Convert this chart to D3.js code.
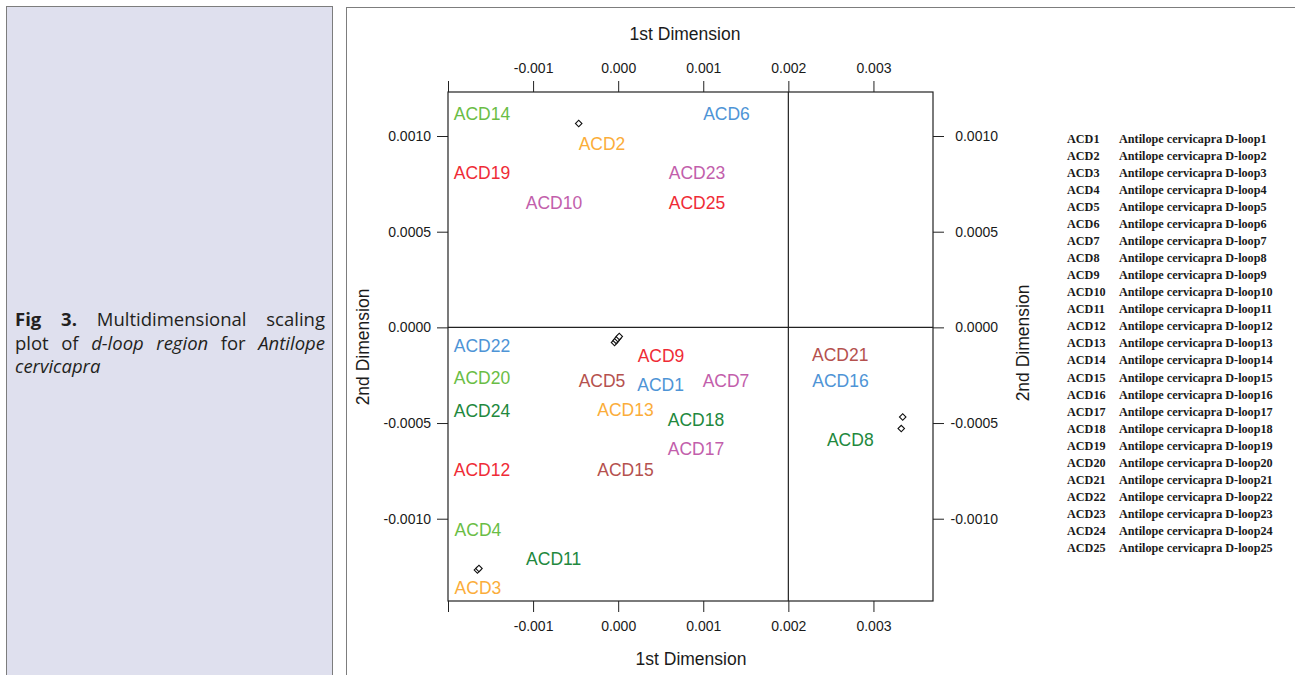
<!DOCTYPE html>
<html>
<head>
<meta charset="utf-8">
<script src="https://cdn.jsdelivr.net/npm/d3@7"></script>
<style>
  body { margin: 0; background: #fff; }
  #wrap { position: relative; width: 1295px; height: 675px; overflow: hidden; }
  #caption {
    position: absolute; left: 15px; top: 307px; width: 310px;
    font-family: "Open Sans", sans-serif; font-size: 18.5px; line-height: 23.5px;
    color: #231f20;
  }
  #caption .j { text-align: justify; text-align-last: justify; white-space: nowrap; }
  svg text { font-family: "Liberation Sans", Arial, sans-serif; }
</style>
</head>
<body>
<div id="wrap">
  <svg id="chart" width="1295" height="675"></svg>
  <div id="caption">
    <div class="j"><b>Fig 3.</b> Multidimensional scaling</div>
    <div class="j">plot of <i>d-loop region</i> for <i>Antilope</i></div>
    <div><i>cervicapra</i></div>
  </div>
</div>
<script>
// sample labels and where the text sits in MDS space
var labels = ["ACD1","ACD2","ACD3","ACD4","ACD5","ACD6","ACD7","ACD8","ACD9","ACD10",
              "ACD11","ACD12","ACD13","ACD14","ACD15","ACD16","ACD17","ACD18","ACD19","ACD20",
              "ACD21","ACD22","ACD23","ACD24","ACD25"]
var labelX = [0.000499, -0.000190, -0.001648, -0.001648, -0.000190, 0.001273, 0.001267, 0.002728, 0.000503, -0.000754,
              -0.000758, -0.001601, 0.000086, -0.001601, 0.000086, 0.002613, 0.000914, 0.000914, -0.001601, -0.001601,
              0.002610, -0.001601, 0.000926, -0.001601, 0.000926]
var labelY = [-0.000301, 0.000962, -0.001363, -0.001055, -0.000280, 0.001115, -0.000279, -0.000588, -0.000149, 0.000649,
              -0.001209, -0.000744, -0.000432, 0.001115, -0.000744, -0.000279, -0.000635, -0.000480, 0.000808, -0.000261,
              -0.000144, -0.000097, 0.000808, -0.000435, 0.000649]
var labelColor = ["#4e94d6","#fbad3a","#fbad3a","#6abd45","#b5514e","#4e94d6","#c25eab","#22883d","#ef2b36","#c25eab",
                  "#22883d","#ef2b36","#fbad3a","#6abd45","#b5514e","#4e94d6","#c25eab","#22883d","#ef2b36","#6abd45",
                  "#b5514e","#4e94d6","#c25eab","#22883d","#ef2b36"]

// the plotted diamond markers
var pointX = [-0.000464, -0.000043, -0.000024, -0.000005, 0.000013, -0.001654, -0.001636, 0.003344, 0.003327]
var pointY = [0.001065, -0.000079, -0.000068, -0.000058, -0.000048, -0.001268, -0.001260, -0.000468, -0.000529]

var xTicks = [-0.002, -0.001, 0.000, 0.001, 0.002, 0.003]
var yTicks = [-0.0010, -0.0005, 0.0000, 0.0005, 0.0010]
var refX = 0.002
var refY = 0

var legendNames = labels.map(function (l, i) { return "Antilope cervicapra D-loop" + (i + 1) })

var svg = d3.select("#chart")

// panels
svg.append("rect").attr("x", 6.5).attr("y", 6.5).attr("width", 326).attr("height", 700)
   .attr("fill", "#dfe0ee").attr("stroke", "#7d7d7d")
svg.append("rect").attr("x", 346.5).attr("y", 7.5).attr("width", 1000).attr("height", 700)
   .attr("fill", "#fff").attr("stroke", "#7d7d7d")

var pLeft = 448, pRight = 933, pTop = 92, pBottom = 601

var x = d3.scaleLinear().domain([-0.002, 0.0037]).range([pLeft, pRight])
var y = d3.scaleLinear().domain([-0.00143, 0.00123]).range([pBottom, pTop])

var fx = function (d) { return d === -0.002 ? "" : d.toFixed(3) }
var fy = function (d) { return d.toFixed(4) }

function styleAxis(g) {
  g.select(".domain").remove()
  g.selectAll(".tick line").attr("stroke", "#222")
  g.selectAll(".tick text").attr("fill", "#1a1a1a").style("font-size", "14px")
   .style("font-family", "'Liberation Sans', Arial, sans-serif")
}

svg.append("g").attr("transform", "translate(0," + pTop + ")")
   .call(d3.axisTop(x).tickValues(xTicks).tickFormat(fx).tickSize(11).tickPadding(8))
   .call(styleAxis)
svg.append("g").attr("transform", "translate(0," + pBottom + ")")
   .call(d3.axisBottom(x).tickValues(xTicks).tickFormat(fx).tickSize(11).tickPadding(9))
   .call(styleAxis)
svg.append("g").attr("transform", "translate(" + pLeft + ",0)")
   .call(d3.axisLeft(y).tickValues(yTicks).tickFormat(fy).tickSize(11).tickPadding(6))
   .call(styleAxis)
var ra = svg.append("g").attr("transform", "translate(" + pRight + ",0)")
   .call(d3.axisRight(y).tickValues(yTicks).tickFormat(fy).tickSize(11).tickPadding(6))
   .call(styleAxis)
// right labels are right aligned in the original
ra.selectAll(".tick text").attr("text-anchor", "end").attr("x", 65)

// frame
svg.append("rect").attr("x", pLeft).attr("y", pTop).attr("width", pRight - pLeft).attr("height", pBottom - pTop)
   .attr("fill", "none").attr("stroke", "#222").attr("stroke-width", 1.2)

// reference lines
svg.append("line").attr("x1", x(refX)).attr("x2", x(refX)).attr("y1", pTop).attr("y2", pBottom)
   .attr("stroke", "#222").attr("stroke-width", 1.2)
svg.append("line").attr("x1", pLeft).attr("x2", pRight).attr("y1", y(refY)).attr("y2", y(refY))
   .attr("stroke", "#222").attr("stroke-width", 1.2)

// axis titles
svg.append("text").attr("x", 685).attr("y", 34).attr("dy", "0.35em").attr("text-anchor", "middle")
   .style("font-size", "17.5px").attr("fill", "#1a1a1a").text("1st Dimension")
svg.append("text").attr("x", 691).attr("y", 659).attr("dy", "0.35em").attr("text-anchor", "middle")
   .style("font-size", "17.5px").attr("fill", "#1a1a1a").text("1st Dimension")
svg.append("text").attr("transform", "translate(363,347) rotate(-90)").attr("dy", "0.35em")
   .attr("text-anchor", "middle").style("font-size", "17.5px").attr("fill", "#1a1a1a").text("2nd Dimension")
svg.append("text").attr("transform", "translate(1023,343) rotate(-90)").attr("dy", "0.35em")
   .attr("text-anchor", "middle").style("font-size", "17.5px").attr("fill", "#1a1a1a").text("2nd Dimension")

// diamonds
var diamond = d3.symbol().type(d3.symbolSquare).size(21)
svg.append("g").selectAll("path").data(pointX).join("path")
   .attr("d", diamond)
   .attr("transform", function (d, i) { return "translate(" + x(d) + "," + y(pointY[i]) + ") rotate(45)" })
   .attr("fill", "#fff").attr("stroke", "#111").attr("stroke-width", 1.1)

// sample labels
svg.append("g").selectAll("text").data(labels).join("text")
   .attr("x", function (d, i) { return x(labelX[i]) })
   .attr("y", function (d, i) { return y(labelY[i]) })
   .attr("dy", "0.36em").attr("text-anchor", "middle")
   .style("font-size", "17.5px")
   .attr("fill", function (d, i) { return labelColor[i] })
   .text(function (d) { return d })

// legend table
var leg = svg.append("g").style("font-weight", "bold").style("font-size", "12.2px").attr("fill", "#1a1a1a")
leg.selectAll("text.id").data(labels).join("text").attr("class", "id")
   .attr("x", 1067).attr("y", function (d, i) { return 138.3 + i * 17.07 }).attr("dy", "0.35em")
   .style("font-family", "'Liberation Serif', serif").text(function (d) { return d })
leg.selectAll("text.nm").data(legendNames).join("text").attr("class", "nm")
   .attr("x", 1119).attr("y", function (d, i) { return 138.3 + i * 17.07 }).attr("dy", "0.35em")
   .style("font-family", "'Liberation Serif', serif").text(function (d) { return d })
</script>
</body>
</html>
